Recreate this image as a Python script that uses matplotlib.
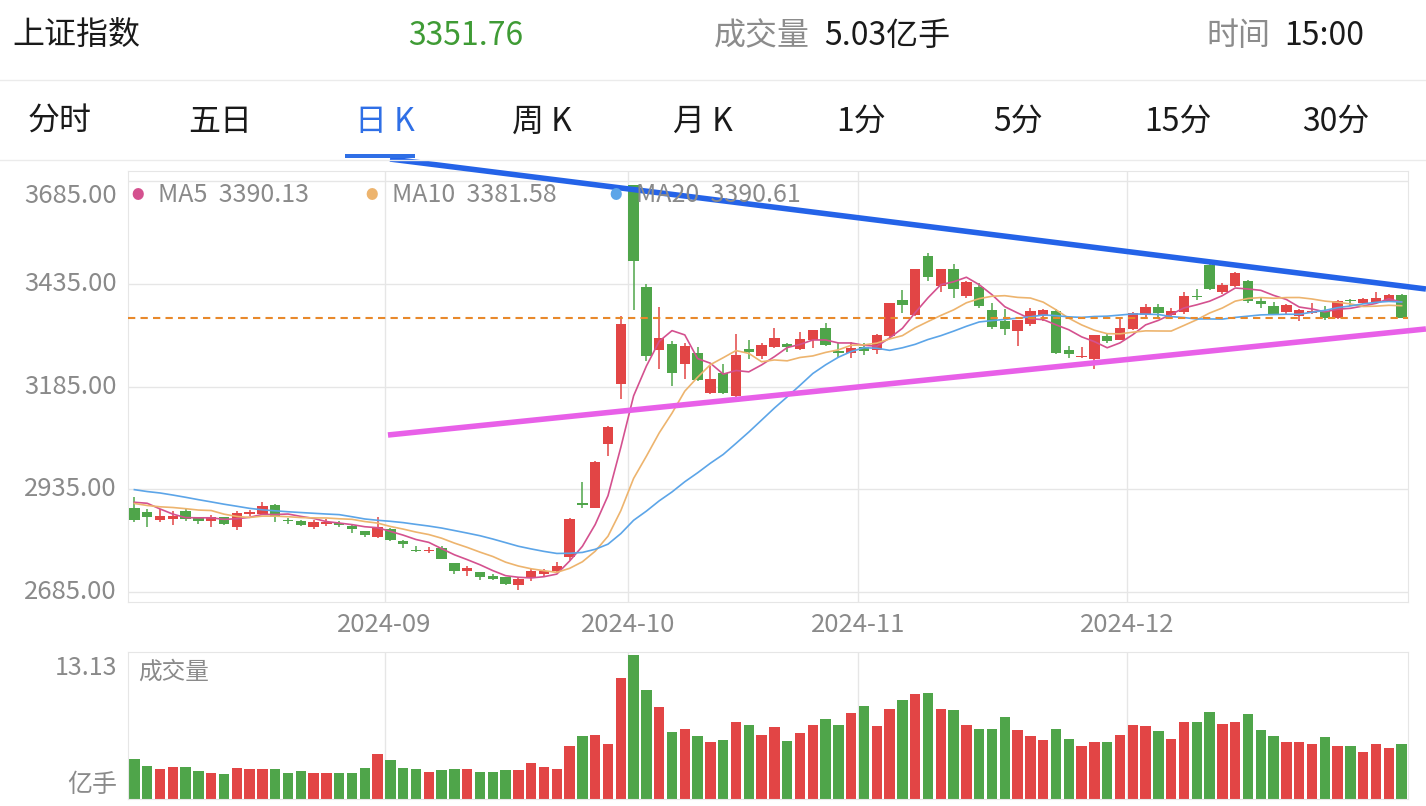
import matplotlib
matplotlib.use('Agg')
import matplotlib.pyplot as plt
import matplotlib.transforms as mtransforms
from matplotlib.lines import Line2D
from matplotlib.patches import Rectangle
import numpy as np

plt.rcParams['font.family'] = ['Noto Sans CJK SC', 'DejaVu Sans']

# trading days shown (Aug 5 .. Dec 31, 2024)
month_days = {
    '2024-08': [5, 6, 7, 8, 9, 12, 13, 14, 15, 16, 19, 20, 21, 22, 23, 26, 27, 28, 29, 30],
    '2024-09': [2, 3, 4, 5, 6, 9, 10, 11, 12, 13, 18, 19, 20, 23, 24, 25, 26, 27, 30],
    '2024-10': [8, 9, 10, 11, 14, 15, 16, 17, 18, 21, 22, 23, 24, 25, 28, 29, 30, 31],
    '2024-11': [1, 4, 5, 6, 7, 8, 11, 12, 13, 14, 15, 18, 19, 20, 21, 22, 25, 26, 27, 28, 29],
    '2024-12': [2, 3, 4, 5, 6, 9, 10, 11, 12, 13, 16, 17, 18, 19, 20, 23, 24, 25, 26, 27, 30, 31],
}

# closes before the first candle, only used to start the moving averages
prior_closes = [2959.37, 2939.36, 2970.39, 2971.30, 2974.01, 2976.30, 2962.86, 2977.13,
                2982.31, 2964.22, 2915.37, 2901.95, 2886.74, 2890.90, 2891.85, 2879.30,
                2938.75, 2932.39, 2905.34]

opens = [2890, 2880, 2860, 2862, 2883, 2864, 2858, 2867, 2843, 2875,
         2875, 2897, 2861, 2858, 2842, 2850, 2854, 2846, 2833, 2818,
         2838, 2810, 2788, 2784, 2792, 2755, 2737, 2733, 2723, 2721,
         2702, 2718, 2730, 2736, 2770, 2901, 2890, 3046, 3191,
         3674.4, 3428, 3274, 3289, 3240, 3267, 3168, 3218, 3163, 3276,
         3258, 3281, 3288, 3276, 3298, 3328, 3272, 3267,
         3281, 3274, 3307, 3395, 3358, 3503, 3430, 3470, 3405, 3428,
         3370, 3344, 3321, 3336, 3357, 3369, 3275, 3256, 3252, 3308, 3299,
         3325, 3360, 3379, 3358, 3366, 3405, 3480, 3414, 3429, 3442,
         3392, 3381, 3367, 3356, 3364, 3368, 3352, 3396, 3389, 3391, 3392, 3407]
highs = [2916, 2886, 2886, 2883, 2886, 2868, 2873, 2868, 2882, 2885,
         2903, 2898, 2865, 2860, 2860, 2862, 2857, 2849, 2834, 2867,
         2840, 2812, 2797, 2795, 2797, 2756, 2748, 2734, 2728, 2722,
         2720, 2740, 2740, 2757, 2866, 2952, 3003, 3090, 3357,
         3674.4, 3434, 3378, 3296, 3290, 3282, 3236, 3240, 3313, 3297,
         3291, 3328, 3292, 3318, 3323, 3339, 3290, 3293,
         3290, 3312, 3388, 3420, 3471, 3509, 3471, 3484, 3441, 3438,
         3389, 3374, 3347, 3375, 3374, 3374, 3283, 3282, 3310, 3315, 3351,
         3367, 3385, 3385, 3375, 3416, 3421, 3486, 3436, 3463, 3445,
         3400, 3391, 3386, 3373, 3389, 3380, 3395, 3399, 3400, 3415, 3410, 3409]
lows = [2856, 2844, 2855, 2849, 2858, 2850, 2844, 2848, 2837, 2871,
        2873, 2856, 2851, 2845, 2838, 2845, 2844, 2829, 2818, 2817,
        2808, 2793, 2782, 2780, 2765, 2730, 2725, 2715, 2715, 2702,
        2690, 2711, 2721, 2733, 2763, 2889, 2889, 3016, 3155,
        3371, 3248, 3227, 3187, 3204, 3198, 3166, 3166, 3155, 3251,
        3253, 3279, 3269, 3274, 3279, 3284, 3257, 3255,
        3261, 3265, 3304, 3365, 3356, 3441, 3416, 3401, 3400, 3375,
        3326, 3310, 3283, 3333, 3345, 3265, 3255, 3254, 3227, 3290, 3298,
        3322, 3355, 3352, 3350, 3362, 3395, 3420, 3410, 3426, 3389,
        3377, 3360, 3362, 3345, 3361, 3348, 3350, 3380, 3386, 3388, 3390, 3351]
closes = [2860.70, 2867.28, 2869.90, 2869.83, 2862.19, 2858.20, 2867.95, 2850.65, 2877.36, 2879.43,
          2893.67, 2866.66, 2856.58, 2848.77, 2854.37, 2855.52, 2848.74, 2837.43, 2823.11, 2842.21,
          2811.04, 2802.98, 2784.28, 2788.31, 2765.81, 2736.49, 2744.19, 2721.80, 2717.12, 2704.09,
          2717.28, 2736.02, 2736.81, 2748.92, 2863.13, 2896.31, 3000.95, 3087.53, 3336.50,
          3489.78, 3258.86, 3301.93, 3217.74, 3284.32, 3201.29, 3202.95, 3169.38, 3261.56, 3268.11,
          3285.87, 3302.80, 3280.26, 3299.70, 3322.20, 3286.41, 3266.24, 3279.82,
          3272.01, 3310.21, 3386.99, 3383.81, 3470.66, 3452.30, 3470.07, 3421.97, 3439.28, 3379.84,
          3330.73, 3323.85, 3346.01, 3367.99, 3370.40, 3267.19, 3263.76, 3259.76, 3309.78, 3295.70, 3326.46,
          3363.98, 3378.81, 3364.65, 3368.86, 3404.08, 3402.53, 3422.66, 3432.49, 3461.50, 3391.88,
          3386.33, 3361.49, 3382.21, 3370.03, 3368.07, 3351.26, 3393.53, 3393.35, 3398.08, 3400.14,
          3407.33, 3351.76]
# volume in 亿手
volumes = [3.66, 3.05, 2.75, 2.96, 2.93, 2.53, 2.41, 2.29, 2.84, 2.75,
           2.75, 2.75, 2.41, 2.53, 2.38, 2.38, 2.41, 2.38, 2.87, 4.06,
           3.51, 2.87, 2.69, 2.50, 2.66, 2.72, 2.75, 2.50, 2.50, 2.60,
           2.60, 3.24, 2.96, 2.69, 4.85, 5.71, 5.80, 4.98, 10.99,
           13.13, 9.92, 8.37, 6.14, 6.35, 5.71, 5.22, 5.34, 6.99, 6.72,
           5.80, 6.53, 5.25, 6.02, 6.75, 7.27, 6.72, 7.88,
           8.52, 6.69, 8.21, 8.98, 9.59, 9.62, 8.18, 8.15, 6.78, 6.35,
           6.35, 7.45, 6.29, 5.71, 5.34, 6.35, 5.44, 4.79, 5.16, 5.16, 5.83,
           6.72, 6.66, 6.23, 5.50, 7.02, 6.99, 7.97, 6.87, 7.05, 7.79,
           6.29, 5.74, 5.19, 5.19, 4.98, 5.62, 4.79, 4.79, 4.27, 5.04, 4.61, 5.03]

price_levels = [3685.00, 3435.00, 3185.00, 2935.00, 2685.00]
ma_periods = [5, 10, 20]
ma_colors = ['#d4518f', '#edb46e', '#5ca5e8']

# hand drawn trend lines, (candle index, price)
upper_trend = [(19.97, 3738.5), (100.9, 3422.2)]
lower_trend = [(19.81, 3067.0), (100.9, 3325.0)]

header_items = [('上证指数', '#1a1a1a'), ('3351.76', '#3f9b35'), ('成交量', '#8c8c8c'),
                ('5.03亿手', '#1a1a1a'), ('时间', '#8c8c8c'), ('15:00', '#1a1a1a')]
tabs = ['分时', '五日', '日 K', '周 K', '月 K', '1分', '5分', '15分', '30分']
active_tab = 2

RED = '#e24545'
GREEN = '#4fa54a'
GRID = '#e6e6e6'
LABEL = '#8a8a8a'

W, H = 1426, 806


def fx(x):
    return x / W


def fy(y):
    return 1 - y / H


n = len(closes)
idx = np.arange(n)
o = np.array(opens, float)
h = np.array(highs, float)
l = np.array(lows, float)
c = np.array(closes, float)
up = c >= o
colors = np.where(up, RED, GREEN)

full = np.array(prior_closes + closes)
mas = []
for p in ma_periods:
    m = np.convolve(full, np.ones(p) / p, mode='valid')
    mas.append(m[-n:])

# month starts for grid / labels
month_start = []
k = 0
for mon, days in month_days.items():
    if k > 0:
        month_start.append((k, mon))
    k += len(days)

fig = plt.figure(figsize=(W / 100, H / 100), dpi=100)

# ---------- header ----------
head_x = [12, 408, 714, 824, 1206, 1284]
for (txt, col), x in zip(header_items, head_x):
    fig.text(fx(x), fy(36), txt, color=col, fontsize=23, ha='left', va='center')
tab_x = [28, 188, 355, 512, 673, 836, 993, 1144, 1302]
for i, (txt, x) in enumerate(zip(tabs, tab_x)):
    col = '#2f6fe6' if i == active_tab else '#1a1a1a'
    fig.text(fx(x), fy(122), txt, color=col, fontsize=23, ha='left', va='center')
fig.add_artist(Rectangle((fx(345), fy(158)), fx(70), 4 / H, transform=fig.transFigure,
                         color='#2f6fe6', lw=0))
for yy in [80, 159.5]:
    fig.add_artist(Line2D([0, 1], [fy(yy), fy(yy)], transform=fig.transFigure,
                          color='#ebebeb', lw=1))

# ---------- price panel ----------
ax = fig.add_axes([fx(128), fy(602), fx(1280), 431 / H])
ax.set_xlim(-0.5, n - 0.5)
ax.set_ylim(2660.7, 3709.3)
for s in ax.spines.values():
    s.set_color(GRID)
ax.set_xticks([])
ax.set_yticks([])
for lv in price_levels:
    ax.axhline(lv, color=GRID, lw=1, zorder=0)
for k, mon in month_start:
    ax.axvline(k - 0.45, color=GRID, lw=1, zorder=0)

ax.vlines(idx, l, h, color=colors, lw=1.1, zorder=2)
ax.bar(idx, np.maximum(np.abs(c - o), 2.0), bottom=np.minimum(o, c), width=0.8,
       color=colors, lw=0, zorder=3)

for m, col in zip(mas, ma_colors):
    ax.plot(idx, m, color=col, lw=1.2, zorder=4)

ax.axhline(c[-1], color='#e8892b', lw=1.5, ls=(0, (3.5, 2.5)), zorder=4)

for pts, col in [(upper_trend, '#2463e8'), (lower_trend, '#e860e8')]:
    xs, ys = zip(*pts)
    ax.plot(xs, ys, color=col, lw=4, solid_capstyle='butt', clip_on=False, zorder=6)

ylab = mtransforms.blended_transform_factory(fig.transFigure, ax.transData)
for i, lv in enumerate(price_levels):
    tr = ylab
    if i == 0:
        tr = mtransforms.offset_copy(ylab, fig=fig, y=-15, units='dots')
    ax.text(fx(117), lv, '%.2f' % lv, transform=tr, ha='right', va='center',
            color=LABEL, fontsize=18.5, clip_on=False)

xlab = mtransforms.blended_transform_factory(ax.transData, fig.transFigure)
for k, mon in month_start:
    ax.text(k - 0.45, fy(625), mon, transform=xlab, ha='center', va='center',
            color=LABEL, fontsize=18.5, clip_on=False)

leg_x = [138, 372, 616]
for p, m, col, x in zip(ma_periods, mas, ma_colors, leg_x):
    fig.text(fx(x), fy(195), '●', color=col, fontsize=9, ha='center', va='center')
    fig.text(fx(x + 20), fy(195), 'MA%d  %.2f' % (p, m[-1]), color=LABEL,
             fontsize=18, ha='left', va='center', zorder=5)

# ---------- volume panel ----------
axv = fig.add_axes([fx(128), fy(799), fx(1280), 147 / H])
axv.set_xlim(-0.5, n - 0.5)
axv.set_ylim(0, 13.40)
for s in axv.spines.values():
    s.set_color(GRID)
axv.set_xticks([])
axv.set_yticks([])
for k, mon in month_start:
    axv.axvline(k - 0.45, color=GRID, lw=1, zorder=0)
axv.bar(idx, volumes, width=0.8, color=colors, lw=0, zorder=2)
axv.text(fx(117), fy(668), '%.2f' % max(volumes), transform=fig.transFigure,
         ha='right', va='center', color=LABEL, fontsize=18)
axv.text(fx(117), fy(785), '亿手', transform=fig.transFigure,
         ha='right', va='center', color=LABEL, fontsize=18)
axv.text(fx(138), fy(672), '成交量', transform=fig.transFigure,
         ha='left', va='center', color=LABEL, fontsize=17)

fig.savefig('out.png', dpi=100)
